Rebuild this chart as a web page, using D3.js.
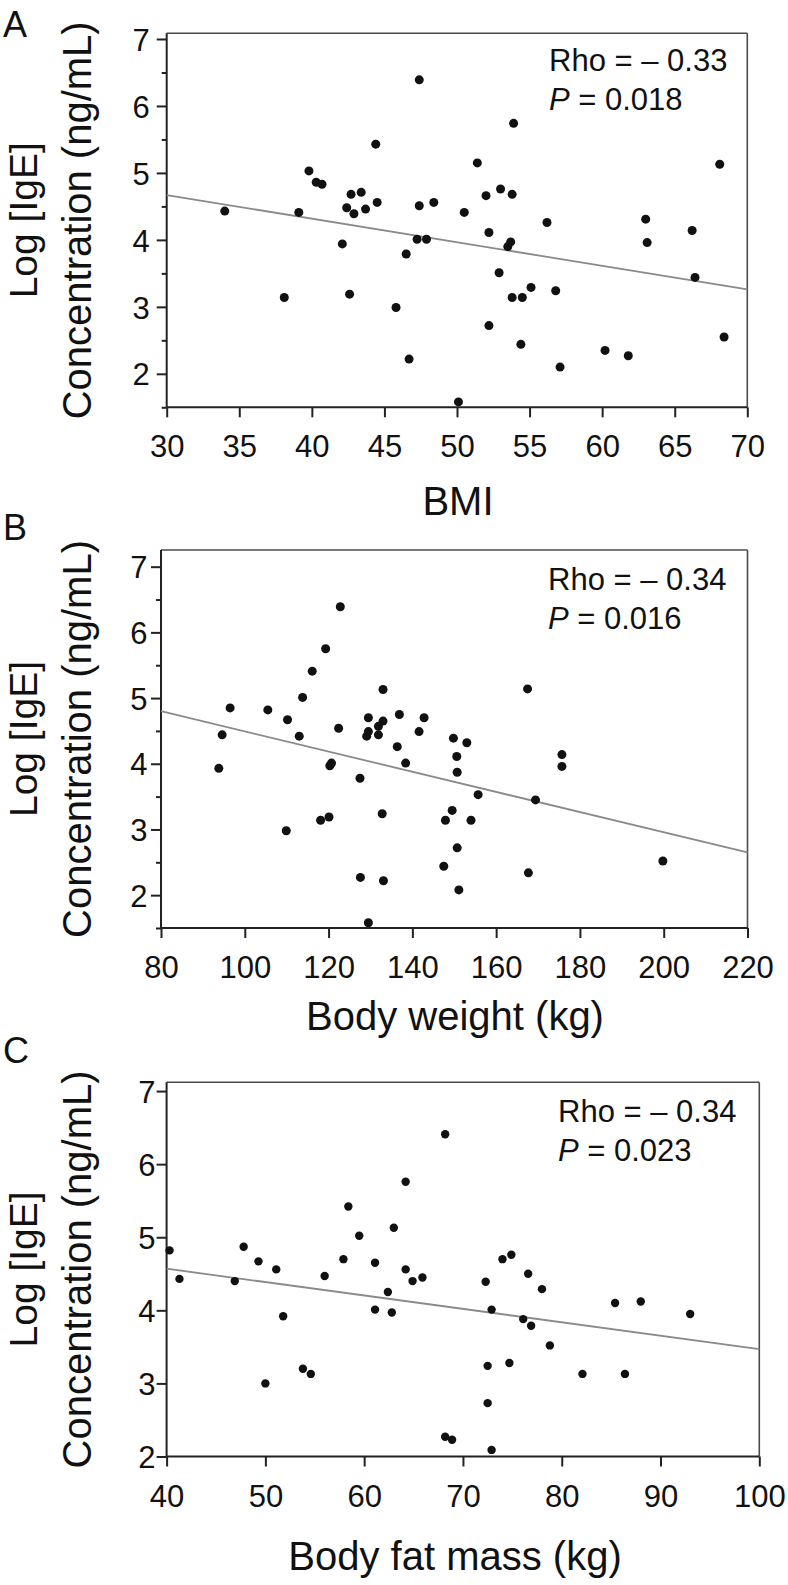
<!DOCTYPE html>
<html><head><meta charset="utf-8">
<script src="https://cdn.jsdelivr.net/npm/d3@7"></script>
<style>
html,body{margin:0;padding:0;background:#fff;}
svg{display:block;font-family:"Liberation Sans",Arial,Helvetica,sans-serif;}
</style></head><body>
<svg id="chart" width="788" height="1585"></svg>
<script>
// ---------- DATA ----------
const bmi   = [34.0,38.1,39.1,39.8,40.3,40.7,42.1,42.4,42.6,42.7,42.9,43.4,43.7,44.4,44.5,45.8,46.5,46.7,47.25,47.4,47.4,47.9,48.4,50.1,50.5,51.4,52.0,52.2,52.2,52.9,53.0,53.5,53.7,53.8,53.8,53.9,54.4,54.5,55.1,56.2,56.8,57.1,60.2,61.8,63.0,63.1,66.2,66.4,68.1,68.4];
const igeA  = [4.43,3.14,4.41,5.03,4.86,4.83,3.94,4.48,3.19,4.68,4.39,4.71,4.46,5.43,4.56,2.99,3.79,2.22,4.01,6.39,4.51,4.01,4.56,1.58,4.41,5.15,4.66,4.11,2.72,3.51,4.76,3.90,3.97,4.68,3.14,5.74,2.44,3.14,3.29,4.26,3.24,2.10,2.35,2.27,4.31,3.96,4.14,3.44,5.13,2.55];

const weight = [93.8,94.6,96.5,105.5,109.9,110.2,113.0,113.8,116.1,118.1,119.3,120.1,120.3,120.7,122.4,122.8,127.5,127.6,129.1,129.5,129.5,129.5,131.9,131.9,132.8,133.0,133.0,133.1,136.4,136.9,138.4,141.6,142.8,147.5,147.9,149.5,149.8,150.6,150.7,150.7,151.1,153.0,154.0,155.7,167.5,167.7,169.4,175.7,175.7,199.8];
const igeB   = [3.93,4.44,4.85,4.82,2.98,4.67,4.42,5.01,5.41,3.14,5.75,3.19,3.97,4.01,4.54,6.39,3.78,2.27,4.42,4.70,4.49,1.58,4.57,4.44,3.24,4.65,5.13,2.22,4.26,4.75,4.01,4.49,4.70,2.44,3.14,3.29,4.39,4.11,3.87,2.72,2.08,4.32,3.14,3.53,5.14,2.34,3.45,4.14,3.96,2.52];

const fatMass = [40.3,41.3,46.9,47.8,49.3,50.0,51.1,51.8,53.8,54.6,56.0,57.9,58.4,59.5,61.1,61.1,62.4,62.8,63.0,64.2,64.2,64.9,65.9,68.2,68.2,68.9,72.3,72.5,72.5,72.9,72.9,74.0,74.7,74.9,76.1,76.6,76.9,78.0,78.8,82.1,85.4,86.4,88.0,93.0];
const igeC    = [4.82,4.43,4.40,4.87,4.67,3.00,4.56,3.92,3.20,3.13,4.47,4.70,5.42,5.02,4.65,4.01,4.25,3.97,5.13,5.76,4.56,4.40,4.45,6.41,2.27,2.23,4.39,3.24,2.73,4.01,2.09,4.70,3.28,4.76,3.88,4.50,3.79,4.29,3.52,3.13,4.10,3.13,4.12,3.95];

// regression line end points (x, y)
const fitAx = [30, 70],  fitAy = [4.67, 3.26];
const fitBx = [80, 220], fitBy = [4.80, 2.65];
const fitCx = [40, 100], fitCy = [4.57, 3.47];

// ticks and labels
const bmiTicks    = [30,35,40,45,50,55,60,65,70];
const weightTicks = [80,100,120,140,160,180,200,220];
const fatTicks    = [40,50,60,70,80,90,100];
const yTicks      = [2,3,4,5,6,7];
const yMinorTicks = [1.5,2.5,3.5,4.5,5.5,6.5];
const panelLetters = ["A","B","C"];
const xTitles = ["BMI","Body weight (kg)","Body fat mass (kg)"];
const yTitle1 = "Log [IgE]";
const yTitle2 = "Concentration (ng/mL)";
const rhoValues = ["– 0.33","– 0.34","– 0.34"];
const pValues   = ["0.018","0.016","0.023"];

// ---------- LAYOUT ----------
const panels = [
  {xv:bmi, yv:igeA, xDom:[30,70], yDom:[1.5,7.085], xTicks:bmiTicks, minor:true,
   x0:166.7, x1:747.3, y0:407.3, y1:33.3, fitX:fitAx, fitY:fitAy,
   annX:549, annY:71, letterY:37, titleX:458, titleY:515, yPad:7, r:4.5},
  {xv:weight, yv:igeB, xDom:[80,220], yDom:[1.5,7.254], xTicks:weightTicks, minor:true,
   x0:161, x1:747.5, y0:928, y1:550, fitX:fitBx, fitY:fitBy,
   annX:548, annY:590, letterY:540, titleX:455, titleY:1030, yPad:3.5, r:4.5},
  {xv:fatMass, yv:igeC, xDom:[40,100], yDom:[2,7.12], xTicks:fatTicks, minor:false,
   x0:166.6, x1:759.3, y0:1456.5, y1:1082.3, fitX:fitCx, fitY:fitCy,
   annX:558, annY:1122, letterY:1063, titleX:455, titleY:1570, yPad:1, r:4.2}
];

const svg = d3.select("#chart");

panels.forEach((p, i) => {
  const g = svg.append("g");
  const x = d3.scaleLinear().domain(p.xDom).range([p.x0, p.x1]);
  const y = d3.scaleLinear().domain(p.yDom).range([p.y0, p.y1]);

  // top & right frame
  g.append("line").attr("x1", p.x0).attr("x2", p.x1).attr("y1", p.y1).attr("y2", p.y1)
    .attr("stroke", "#4a4a4a").attr("stroke-width", 1.6);
  g.append("line").attr("x1", p.x1).attr("x2", p.x1).attr("y1", p.y1).attr("y2", p.y0)
    .attr("stroke", "#4a4a4a").attr("stroke-width", 1.6);

  // left axis
  const ya = g.append("g").attr("transform", `translate(${p.x0},0)`)
    .call(d3.axisLeft(y).tickValues(yTicks).tickSize(10).tickSizeOuter(0).tickPadding(p.yPad).tickFormat(d3.format("d")));
  ya.select(".domain").attr("stroke", "#222").attr("stroke-width", 2)
    .attr("d", `M0,${p.y0}V${p.y1}`);
  ya.selectAll(".tick line").attr("stroke", "#222").attr("stroke-width", 2);
  ya.selectAll(".tick text").attr("font-size", 31).attr("fill", "#111")
    .attr("font-family", '"Liberation Sans",Arial,sans-serif').attr("dy", "0.36em");
  if (p.minor) {
    const ym = g.append("g").attr("transform", `translate(${p.x0},0)`)
      .call(d3.axisLeft(y).tickValues(yMinorTicks).tickSize(5).tickSizeOuter(0).tickFormat(""));
    ym.select(".domain").remove();
    ym.selectAll(".tick line").attr("stroke", "#222").attr("stroke-width", 2);
  }

  // bottom axis
  const xa = g.append("g").attr("transform", `translate(0,${p.y0})`)
    .call(d3.axisBottom(x).tickValues(p.xTicks).tickSize(10).tickSizeOuter(0).tickPadding(18).tickFormat(d3.format("d")));
  xa.select(".domain").attr("stroke", "#222").attr("stroke-width", 2)
    .attr("d", `M${p.x0},0H${p.x1}`);
  xa.selectAll(".tick line").attr("stroke", "#222").attr("stroke-width", 2);
  xa.selectAll(".tick text").attr("font-size", 31).attr("fill", "#111")
    .attr("font-family", '"Liberation Sans",Arial,sans-serif');

  // regression line
  g.append("line")
    .attr("x1", x(p.fitX[0])).attr("y1", y(p.fitY[0]))
    .attr("x2", x(p.fitX[1])).attr("y2", y(p.fitY[1]))
    .attr("stroke", "#8a8a8a").attr("stroke-width", 1.8);

  // points
  g.selectAll("circle.pt").data(p.xv.map((v, k) => [v, p.yv[k]])).join("circle")
    .attr("class", "pt")
    .attr("cx", d => x(d[0])).attr("cy", d => y(d[1]))
    .attr("r", p.r).attr("fill", "#111");

  // annotation
  g.append("text").attr("x", p.annX).attr("y", p.annY).attr("font-size", 31).attr("fill", "#111")
    .text("Rho = " + rhoValues[i]);
  const pt = g.append("text").attr("x", p.annX).attr("y", p.annY + 39).attr("font-size", 31).attr("fill", "#111");
  pt.append("tspan").attr("font-style", "italic").text("P");
  pt.append("tspan").text(" = " + pValues[i]);

  // panel letter
  g.append("text").attr("x", 3).attr("y", p.letterY).attr("font-size", 36).attr("fill", "#111")
    .text(panelLetters[i]);

  // x title
  g.append("text").attr("x", p.titleX).attr("y", p.titleY).attr("text-anchor", "middle")
    .attr("font-size", 40).attr("fill", "#111").text(xTitles[i]);

  // y titles
  const cy = (p.y0 + p.y1) / 2;
  g.append("text").attr("transform", `translate(37,${cy}) rotate(-90)`).attr("text-anchor", "middle")
    .attr("font-size", 39).attr("fill", "#111").text(yTitle1);
  g.append("text").attr("transform", `translate(91,${cy}) rotate(-90)`).attr("text-anchor", "middle")
    .attr("font-size", 40).attr("fill", "#111").text(yTitle2);
});
</script>
</body></html>
